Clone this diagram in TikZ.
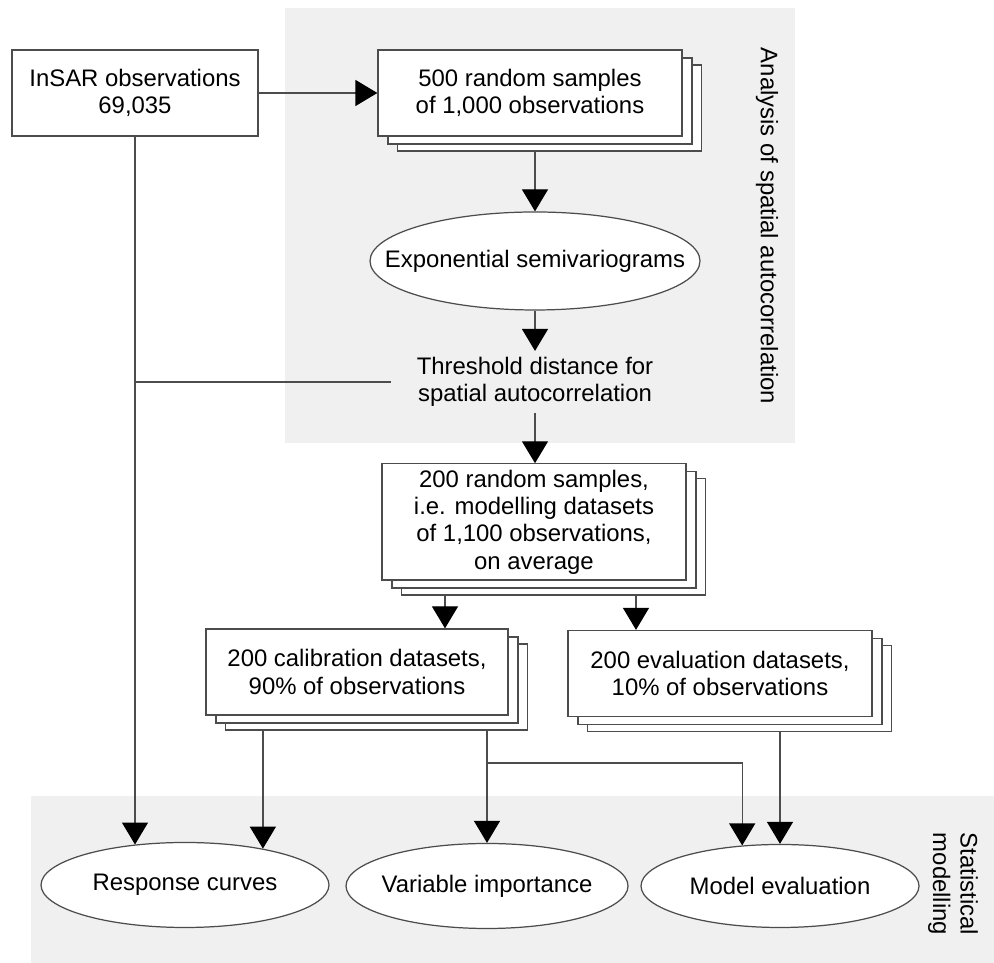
\documentclass[tikz,border=0pt]{standalone}
\usepackage{fontspec}
\setmainfont{Liberation Sans}
\usetikzlibrary{arrows.meta,shapes.geometric,shadows}
\pgfdeclarelayer{back}
\pgfdeclarelayer{wires}
\pgfsetlayers{back,wires,main}
\definecolor{linecol}{gray}{0.3}
\definecolor{panelgray}{gray}{0.94}

\begin{document}
\begin{tikzpicture}[font = \fontsize{13.6}{15.6}\selectfont,
    box/.style = {draw = linecol, line width = 0.7pt, fill = white, align = center, minimum height = 1.72cm},
    stackbox/.style = {box,
        general shadow = {shadow xshift = 0.39cm, shadow yshift = -0.3cm, fill = white, draw = linecol, line width = 0.7pt},
        general shadow = {shadow xshift = 0.2cm, shadow yshift = -0.16cm, fill = white, draw = linecol, line width = 0.7pt}},
    oval/.style = {shape = ellipse, draw = linecol, line width = 0.7pt, fill = white, minimum height = 1.7cm},
    wire/.style = {draw = linecol, line width = 0.7pt},
    arr/.style = {wire, -{Triangle[width = 0.52cm, length = 0.44cm, color = black]}}]
    \useasboundingbox (0,0) rectangle (19.88,19.26);

    % shaded blocks
    \begin{pgfonlayer}{back}
        \fill[panelgray] (5.70,10.40) rectangle (15.90,19.10);
        \fill[panelgray] (0.62,0) rectangle (19.88,3.34);
    \end{pgfonlayer}

    \node[box, minimum width = 4.92cm] (insar) at (2.70,17.40) {InSAR observations\\69,035};
    \node[stackbox, minimum width = 6.08cm] (samples500) at (10.60,17.40) {500 random samples\\of 1,000 observations};
    \node[oval, minimum width = 6.6cm, minimum height = 1.96cm, label = center:Exponential semivariograms] (expo) at (10.70,14.04) {};
    \node[align = center] (thresh) at (10.70,11.62) {Threshold distance for\\spatial autocorrelation};
    \node[stackbox, minimum width = 6.08cm, minimum height = 2.32cm] (samples200) at (10.68,8.82)
        {200 random samples,\\i.e. modelling datasets\\of 1,100 observations,\\on average};
    \node[stackbox, minimum width = 6.04cm] (calib) at (7.14,5.82) {200 calibration datasets,\\90\% of observations};
    \node[stackbox, minimum width = 6.08cm] (eval) at (14.40,5.79) {200 evaluation datasets,\\10\% of observations};
    \node[oval, minimum width = 5.76cm, label = center:Response curves] (resp) at (3.70,1.56) {};
    \node[oval, minimum width = 5.64cm, label = center:Variable importance] (var) at (9.74,1.54) {};
    \node[oval, minimum width = 5.56cm, minimum height = 1.66cm, label = center:Model evaluation] (model) at (15.60,1.54) {};

    \node[rotate = -90] (spatial) at (15.34,14.74) {Analysis of spatial autocorrelation};
    \node[rotate = -90, align = center] (stats) at (19.06,1.58) {Statistical\\modelling};

    \begin{pgfonlayer}{wires}
        \coordinate (calIn) at ([xshift = 1.76cm]calib.north);
        \coordinate (evalIn) at ([xshift = -1.68cm]eval.north);
        \coordinate (branch) at (0,4.00);
        \draw[arr] (insar) -- (samples500);
        \draw[arr] (expo.north |- samples500.south) -- (expo.north);
        \draw[arr] (expo) -- (thresh);
        \draw[arr] (thresh.south) -- (thresh.south |- samples200.north);
        \draw[wire] (insar.south |- thresh.west) -- ([xshift = -0.4cm]thresh.west);
        \draw[arr] (insar.south) -- (insar.south |- resp.141);
        \draw[arr] (calIn |- samples200.south) -- (calIn);
        \draw[arr] (evalIn |- samples200.south) -- (evalIn);
        \draw[arr] (resp.25 |- calib.south) -- (resp.25);
        \draw[arr] (var.north |- calib.south) -- (var.north);
        \draw[arr] (var.north |- branch) -| (model.133);
        \draw[arr] (model.north |- eval.south) -- (model.north);
    \end{pgfonlayer}
\end{tikzpicture}
\end{document}
